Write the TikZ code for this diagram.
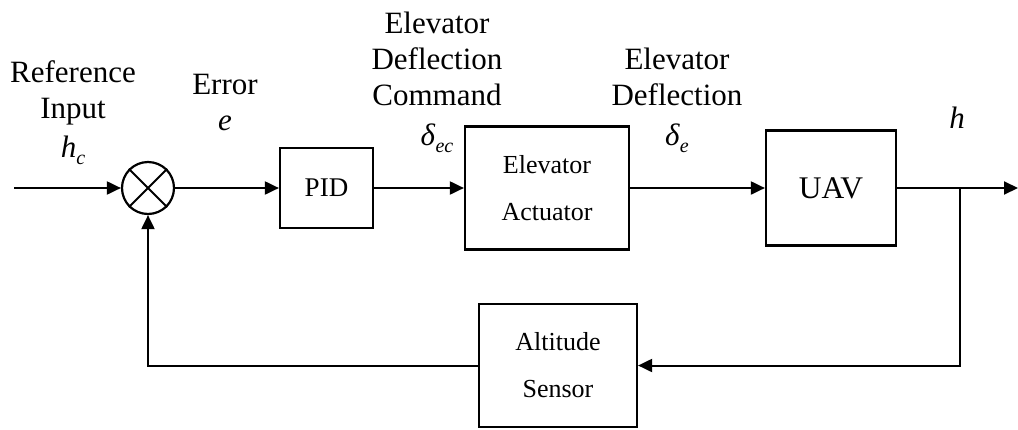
\documentclass[tikz,border=0pt]{standalone}
\usepackage{fontspec}
\setmainfont{Liberation Serif}
\usetikzlibrary{arrows.meta, calc}
\newcommand{\lowsub}[1]{\raisebox{-7pt}{\fontsize{20}{20}\selectfont\itshape #1}}

\begin{document}
\begin{tikzpicture}[
    x=1pt, y=-1pt,
    blk/.style={draw, line width=2.2pt, inner sep=0pt, minimum width=#1, align=center,
                font=\fontsize{26}{47}\selectfont},
    lbl/.style={inner sep=0pt, align=center, anchor=base, font=\fontsize{31}{36}\selectfont},
    sig/.style={-{Triangle[length=14pt, width=13pt]}, line width=2pt}
]
\useasboundingbox (0,0) rectangle (1018,429);

% Forward path
\node[circle, draw, line width=2.2pt, minimum size=52pt, inner sep=0pt] (sum) at (148,188) {};
\draw[line width=2pt] (sum.north east) -- (sum.south west) (sum.north west) -- (sum.south east);
\node[blk=93pt, minimum height=80pt, font=\fontsize{27}{30}\selectfont] (pid) at (326.5,188) {PID};
\node[blk=164pt, minimum height=123pt] (act) at (547,188) {Elevator\\Actuator};
\node[blk=130pt, minimum height=115pt, font=\fontsize{31.5}{36}\selectfont] (uav) at (831,188) {UAV};

% Feedback path
\node[blk=158pt, minimum height=123pt] (sen) at (558,365.5) {Altitude\\Sensor};

\coordinate (in) at (14,188);
\coordinate (out) at (1018,188);
\coordinate (tap) at (960,188);

% Signals (base = last line)
\node[lbl] (refin) at (73,157) {Reference\\Input\\[3pt]\textit{h}\lowsub{c}};
\node[lbl] (err) at (225,130) {Error\\\textit{e}};
\node[lbl] (cmd) at (437,145) {Elevator\\Deflection\\Command\\[4pt]\textit{δ}\lowsub{ec}};
\node[lbl] (defl) at (677,145) {Elevator\\Deflection\\[4pt]\textit{δ}\lowsub{e}};
\node[lbl] (alt) at (957,128) {\textit{h}};

% Connections
\draw[sig] (in) -- (sum);
\draw[sig] (sum) -- (pid);
\draw[sig] (pid) -- (act);
\draw[sig] (act) -- (uav);
\draw[sig] (uav) -- (out);
\draw[sig] (tap) |- (sen);
\draw[sig] (sen) -| (sum);
\end{tikzpicture}
\end{document}
